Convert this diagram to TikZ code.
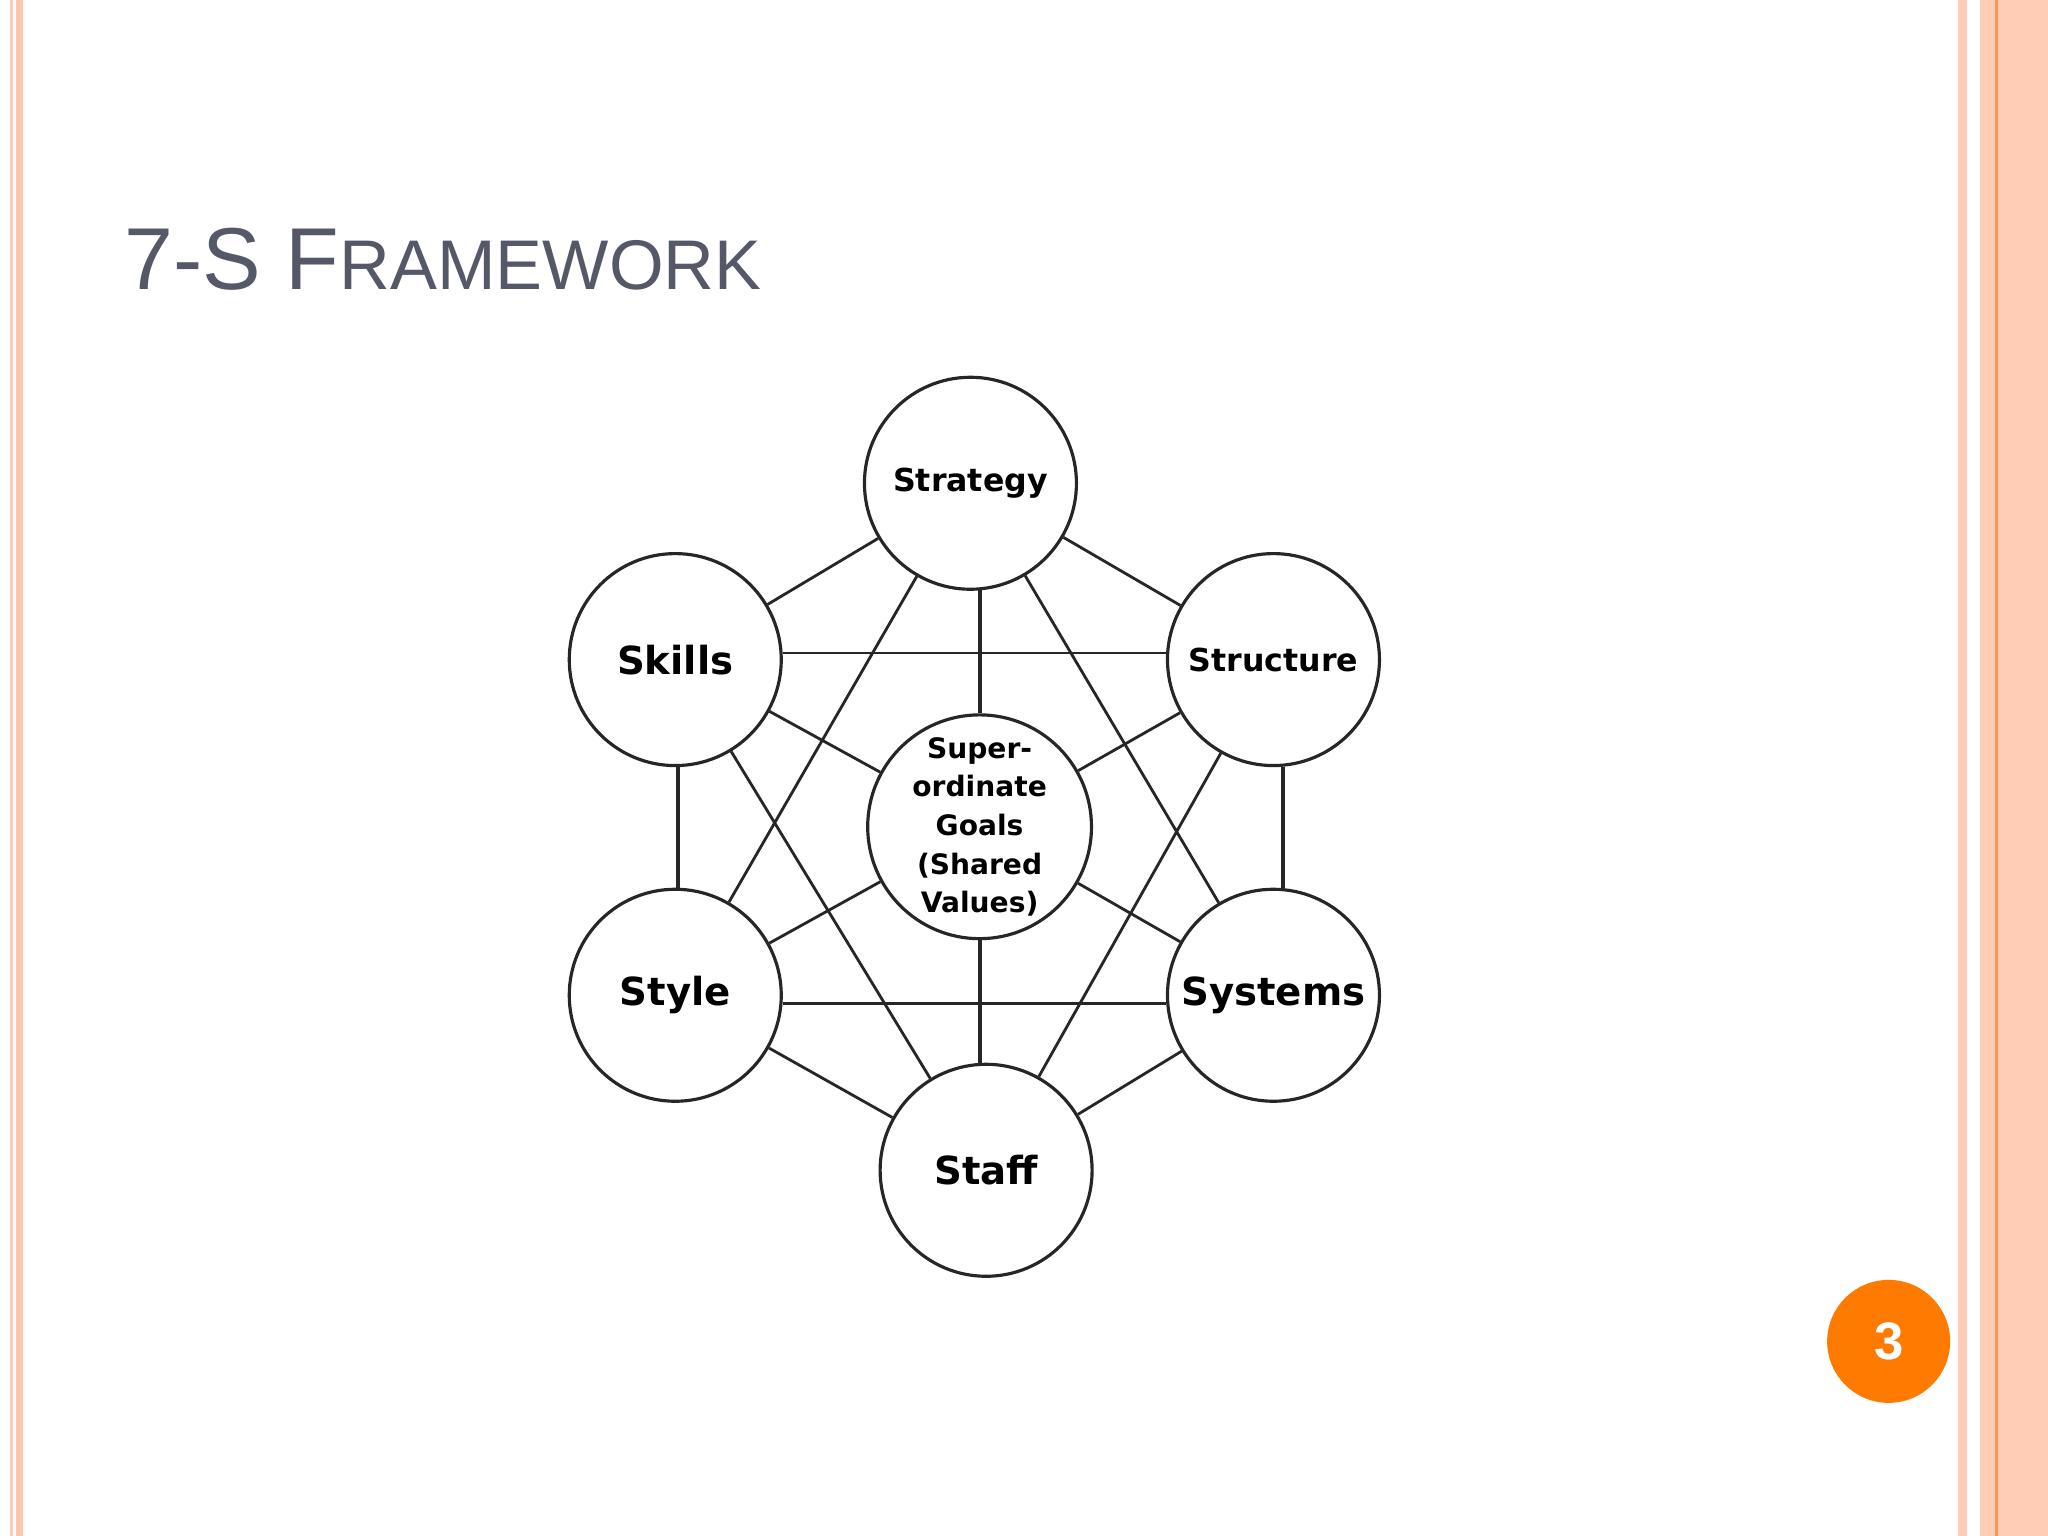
\documentclass[tikz,border=0pt]{standalone}
\usepackage{fontspec}
\setmainfont{Liberation Sans}
\newfontfamily\dvb{DejaVu Sans}
\definecolor{titlegray}{HTML}{555866}
\begin{document}
\begin{tikzpicture}[x=0.013061cm,y=-0.013061cm,
  sv/.style={circle,draw=black!85,line width=0.9pt,fill=white,minimum size=2.12cm,inner sep=0pt,align=center},
  ln/.style={draw=black!85,line width=0.8pt}]
\useasboundingbox (0,0) rectangle (1568,1176);
\fill[white] (0,0) rectangle (1568,1176);
% borders
\fill[orange!30!pink!60] (7.6,0) rectangle (10,1176);
\fill[orange!30!pink!70] (12.2,0) rectangle (17.6,1176);
\fill[orange!30!pink!60] (1499,0) rectangle (1506,1176);
\fill[orange!30!pink!60] (1516,0) rectangle (1568,1176);
\fill[orange!80!red!70] (1527.5,0) rectangle (1530,1176);
% title
\node[anchor=base west,inner sep=0pt,text=titlegray] (title) at (95,222)
  {\fontsize{25}{25}\selectfont 7-S F\fontsize{20}{20}\selectfont RAMEWORK};
% nodes
\node[sv,font=\dvb\bfseries\fontsize{9}{9}\selectfont] (str) at (743,370) {Strategy};
\node[sv,font=\dvb\bfseries\fontsize{11}{11}\selectfont] (ski) at (517,505) {Skills};
\node[sv,font=\dvb\bfseries\fontsize{9}{9}\selectfont] (stu) at (975,505) {Structure};
\node[sv,font=\dvb\bfseries\fontsize{11}{11}\selectfont] (sty) at (517,762) {Style};
\node[sv,font=\dvb\bfseries\fontsize{11}{11}\selectfont] (sys) at (975,762) {Systems};
\node[sv,font=\dvb\bfseries\fontsize{11}{11}\selectfont] (sta) at (755,896) {Staff};
\node[sv,font=\dvb\bfseries\fontsize{8}{11}\selectfont] (cen) at (750,633) {Super-\\ordinate\\Goals\\(Shared\\Values)};
% edges
\path[ln] (str) -- (ski) (str) -- (stu) (str) -- (sty) (str) -- (sys)
  (ski) -- (cen) (stu) -- (cen) (sty) -- (cen) (sys) -- (cen)
  (ski) -- (sta) (stu) -- (sta) (sty) -- (sta) (sys) -- (sta);
\path[ln,line width=1.1pt] (750,452) -- (cen.north) (cen.south) -- (750,814);
\path[ln] (ski.east |- 0,500) -- (stu.west |- 0,500);
\path[ln] (sty.east |- 0,768) -- (sys.west |- 0,768);
\path[ln,line width=1.1pt] (519,587) -- (519,680) (982,587) -- (982,680);
% page number
\node[circle,fill=orange!85!red!90!yellow,minimum size=1.23cm,text=white,font=\bfseries\fontsize{15}{15}\selectfont] (pg) at (1446,1027) {3};
\end{tikzpicture}
\end{document}
